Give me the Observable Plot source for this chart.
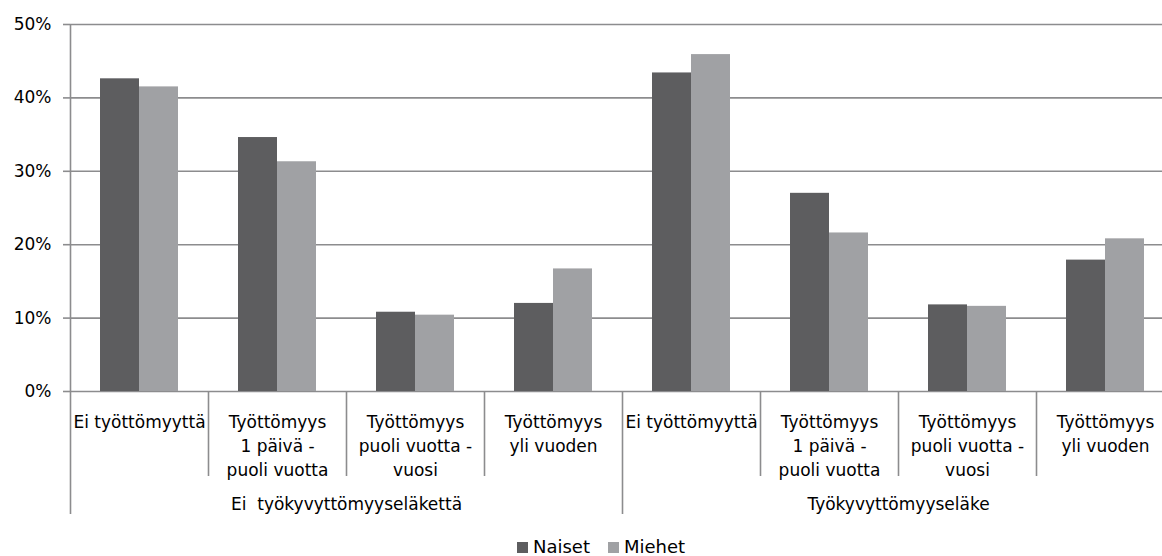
<!DOCTYPE html>
<html>
<head>
<meta charset="utf-8">
<script src="https://cdn.jsdelivr.net/npm/d3@7"></script>
<script src="https://cdn.jsdelivr.net/npm/@observablehq/plot@0.6"></script>
<style>
  html, body { margin: 0; padding: 0; overflow: hidden; background: #fff; }
  body { width: 1162px; height: 556px; position: relative; font-family: "DejaVu Sans", sans-serif; }
  #chart svg text { white-space: pre; }
  #legend { position: absolute; left: 517px; top: 538px; font-size: 18px; line-height: 18px; white-space: nowrap; color: #000; }
  #legend .sw { display: inline-block; width: 11px; height: 11px; margin-right: 5px; }
  #legend .item { margin-right: 18px; }
</style>
</head>
<body>
<div id="chart"></div>
<div id="legend"></div>
<script>
// ---- data ----
const groups = ["Ei  työkyvyttömyyseläkettä", "Työkyvyttömyyseläke"];
const categories = [
  "Ei työttömyyttä",
  "Työttömyys\n1 päivä -\npuoli vuotta",
  "Työttömyys\npuoli vuotta -\nvuosi",
  "Työttömyys\nyli vuoden"
];
const series = ["Naiset", "Miehet"];
const seriesColors = ["#5d5d5f", "#a0a1a4"];
// values in %, ordered group 1 (4 categories) then group 2 (4 categories)
const naiset = [42.6, 34.6, 10.8, 12.0, 43.4, 27.0, 11.8, 17.9];
const miehet = [41.5, 31.3, 10.4, 16.7, 45.9, 21.6, 11.6, 20.8];
const yTicks = [0, 10, 20, 30, 40, 50];

// ---- build table ----
const seriesValues = [naiset, miehet];
const rows = [];
series.forEach((s, si) => {
  groups.forEach((g, gi) => {
    categories.forEach((c, ci) => {
      rows.push({series: s, group: g, category: c, value: seriesValues[si][gi * categories.length + ci]});
    });
  });
});

const W = 1174, H = 530;
const half = (W - 70) / groups.length / categories.length / 2; // half band width
const lineColor = "#8c8c8e";

const barMarks = series.map((s, si) =>
  Plot.barY(rows.filter(d => d.series === s), {
    x: "category", fx: "group", y: "value",
    fill: seriesColors[si],
    insetLeft: si === 0 ? 30 : 69,
    insetRight: si === 0 ? 69 : 30
  })
);

const chart = Plot.plot({
  width: W,
  height: H,
  marginTop: 24,
  marginBottom: H - 391,
  marginLeft: 70,
  marginRight: 0,
  style: {fontFamily: "DejaVu Sans, sans-serif", fontSize: "17px", color: "#000", maxWidth: "none", overflow: "visible", background: "#fff"},
  x: {domain: categories, padding: 0, label: null},
  fx: {domain: groups, padding: 0, label: null},
  y: {domain: [0, 50], label: null},
  marks: [
    Plot.gridY(yTicks, {stroke: lineColor, strokeOpacity: 1, strokeWidth: 1.6}),
    ...barMarks,
    // y axis line
    Plot.ruleX([{group: groups[0], category: categories[0]}], {x: "category", fx: "group", dx: -half, stroke: lineColor, strokeWidth: 1.6}),
    Plot.axisY({ticks: yTicks, tickFormat: d => d + "%", tickSize: 7, tickPadding: 12, stroke: lineColor, strokeWidth: 1.6, fontSize: 17, label: null}),
    // inner category separators
    Plot.axisX({ticks: categories.slice(1), tickSize: 85, dx: -half, tickFormat: () => "", stroke: lineColor, strokeWidth: 1.6, label: null}),
    // group separators
    Plot.axisX({ticks: [categories[0]], tickSize: 123, dx: -half, tickFormat: () => "", stroke: lineColor, strokeWidth: 1.6, label: null}),
    // category labels
    Plot.axisX({tickSize: 0, tickPadding: 20, fontSize: 17, lineHeight: 1.39, label: null}),
    // group labels
    Plot.axisFx({anchor: "bottom", tickSize: 0, tickPadding: 106, fontSize: 17, label: null})
  ]
});
document.getElementById("chart").appendChild(chart);

// legend
const legend = document.getElementById("legend");
series.forEach((s, i) => {
  const item = document.createElement("span");
  item.className = "item";
  const sw = document.createElement("span");
  sw.className = "sw";
  sw.style.background = seriesColors[i];
  item.appendChild(sw);
  item.appendChild(document.createTextNode(s));
  legend.appendChild(item);
});
</script>
</body>
</html>
